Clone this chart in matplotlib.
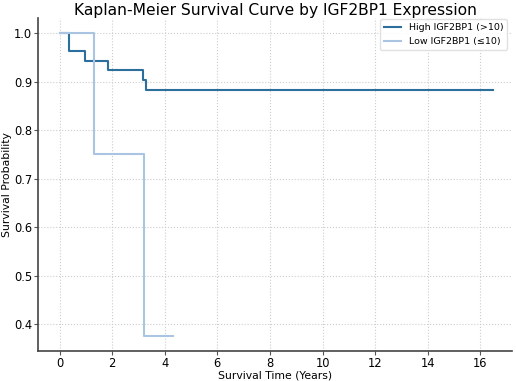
import matplotlib
matplotlib.use('Agg')
import matplotlib.pyplot as plt

# Kaplan-Meier step data
high_t = [0.0, 0.36, 0.96, 1.85, 3.18, 3.28, 16.5]
high_s = [1.0, 0.963, 0.944, 0.925, 0.904, 0.883, 0.883]
low_t = [0.0, 1.32, 3.2, 4.3]
low_s = [1.0, 0.75, 0.375, 0.375]

fig, ax = plt.subplots(figsize=(5.16, 3.81), dpi=100)
ax.step(high_t, high_s, where='post', color='#2d6f9c', lw=1.5, label='High IGF2BP1 (>10)')
ax.step(low_t, low_s, where='post', color='#a9c5e1', lw=1.5, label='Low IGF2BP1 (≤10)')

ax.set_title('Kaplan-Meier Survival Curve by IGF2BP1 Expression', fontsize=11.2, pad=2)
ax.set_xlabel('Survival Time (Years)', fontsize=7.8, labelpad=0)
ax.set_ylabel('Survival Probability', fontsize=7.8, labelpad=1)
ax.set_xticks(range(0, 17, 2))
ax.set_xlim(-0.81, 17.2)
ax.set_ylim(0.344, 1.032)
ax.tick_params(labelsize=8.3, length=3, color='#555555', pad=1.5)
ax.grid(True, linestyle=':', color='#cccccc', lw=0.8)
ax.spines['top'].set_visible(False)
ax.spines['right'].set_visible(False)
for s in ['left', 'bottom']:
    ax.spines[s].set_color('#444444')
    ax.spines[s].set_linewidth(1.2)
ax.legend(fontsize=6.8, loc='upper right', framealpha=0.9, edgecolor='#dddddd',
          handlelength=1.8, bbox_to_anchor=(1.0, 1.01))

fig.subplots_adjust(left=0.0742, right=0.992, top=0.9528, bottom=0.0787)
fig.savefig('out.png', dpi=100)
